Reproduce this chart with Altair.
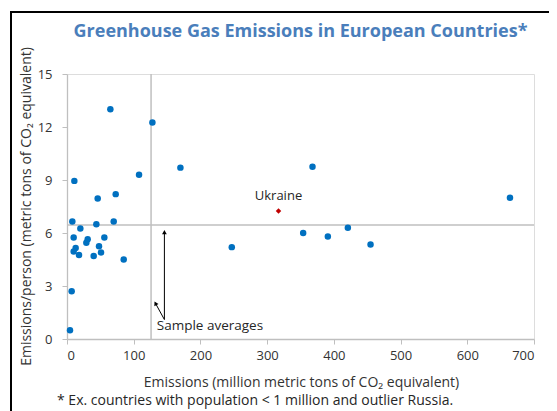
import altair as alt
import pandas as pd

# --- data ---
emissions = [65, 128, 170, 108, 11, 46, 73, 8, 70, 44, 20, 10, 31, 29, 56, 48,
             13, 10, 51, 18, 40, 85, 7, 4.5, 247, 354, 368, 391, 421, 455, 664]
per_person = [13.0, 12.25, 9.7, 9.3, 8.95, 7.95, 8.2, 6.65, 6.65, 6.5, 6.25, 5.75,
              5.65, 5.45, 5.75, 5.25, 5.15, 4.95, 4.9, 4.75, 4.7, 4.5, 2.7, 0.5,
              5.2, 6.0, 9.75, 5.8, 6.3, 5.35, 8.0]

highlight_name = ["Ukraine"]
highlight_emissions = [317]
highlight_per_person = [7.25]

avg_emissions = [126]
avg_per_person = [6.45]

x_ticks = [0, 100, 200, 300, 400, 500, 600, 700]
y_ticks = [0, 3, 6, 9, 12, 15]

# annotation: "Sample averages" with two arrows
note_text = ["Sample averages"]
note_x = [134.5]
note_y = [0.72]
arrow_start_x = [146, 146]
arrow_start_y = [1.1, 1.1]
arrow_end_x = [146, 132.6]
arrow_end_y = [6.05, 2.02]
arrow_angle = [0, 331.5]

footnote = ["* Ex. countries with population < 1 million and outlier Russia."]

FONT = "Open Sans"
TEXT_COLOR = "#333333"
GRID_GRAY = "#BFBFBF"

df = pd.DataFrame({"emissions": emissions, "per_person": per_person})
df_hi = pd.DataFrame({"name": highlight_name, "emissions": highlight_emissions,
                      "per_person": highlight_per_person})
df_avg_x = pd.DataFrame({"v": avg_emissions})
df_avg_y = pd.DataFrame({"v": avg_per_person})
df_note = pd.DataFrame({"t": note_text, "x": note_x, "y": note_y})
df_arrow = pd.DataFrame({"x": arrow_start_x, "y": arrow_start_y,
                         "x2": arrow_end_x, "y2": arrow_end_y, "angle": arrow_angle})
df_foot = pd.DataFrame({"t": footnote})
df_one = pd.DataFrame({"k": [0]})

xscale = alt.Scale(domain=[0, 700], nice=False, zero=False)
yscale = alt.Scale(domain=[0, 15], nice=False, zero=False)

x_axis = alt.Axis(
    values=x_ticks, grid=False, tickSize=5, tickColor=GRID_GRAY, domainColor=GRID_GRAY,
    domainWidth=1.3, labelPadding=5, labelFontSize=13, labelFont=FONT, labelColor=TEXT_COLOR,
    title="Emissions (million metric tons of CO₂ equivalent)", titleFont=FONT,
    titleFontSize=14, titleFontWeight="normal", titleColor=TEXT_COLOR,
    titleX=234, titleY=43, titleBaseline="middle", titleAlign="center",
)
y_axis = alt.Axis(
    values=y_ticks, grid=False, tickSize=5, tickColor=GRID_GRAY, domainColor=GRID_GRAY,
    domainWidth=1.3, labelPadding=10, labelFontSize=13, labelFont=FONT, labelColor=TEXT_COLOR,
    title="Emissions/person (metric tons of CO₂ equivalent)", titleFont=FONT,
    titleFontSize=14, titleFontWeight="normal", titleColor=TEXT_COLOR,
    titleX=-41, titleY=132, titleBaseline="middle", titleAlign="center", titleAngle=270,
)

points = alt.Chart(df).mark_circle(size=42, color="#0070C0", opacity=1).encode(
    x=alt.X("emissions:Q", scale=xscale, axis=x_axis),
    y=alt.Y("per_person:Q", scale=yscale, axis=y_axis),
)

avg_v = alt.Chart(df_avg_x).mark_rule(color=GRID_GRAY, strokeWidth=1.5).encode(
    x=alt.X("v:Q", scale=xscale))
avg_h = alt.Chart(df_avg_y).mark_rule(color=GRID_GRAY, strokeWidth=1.5).encode(
    y=alt.Y("v:Q", scale=yscale))

hi_point = alt.Chart(df_hi).mark_point(shape="diamond", filled=True, size=30,
                                       color="#C00000", opacity=1).encode(
    x=alt.X("emissions:Q", scale=xscale), y=alt.Y("per_person:Q", scale=yscale))
hi_label = alt.Chart(df_hi).mark_text(dy=-15, font=FONT, fontSize=13,
                                      color="#262626", baseline="middle").encode(
    x=alt.X("emissions:Q", scale=xscale), y=alt.Y("per_person:Q", scale=yscale),
    text="name:N")

arrow_lines = alt.Chart(df_arrow).mark_rule(color="#000000", strokeWidth=1).encode(
    x=alt.X("x:Q", scale=xscale), y=alt.Y("y:Q", scale=yscale),
    x2="x2:Q", y2="y2:Q")
arrow_heads = alt.Chart(df_arrow).mark_point(shape="triangle-up", filled=True, size=22,
                                             color="#000000", opacity=1).encode(
    x=alt.X("x2:Q", scale=xscale), y=alt.Y("y2:Q", scale=yscale),
    angle=alt.Angle("angle:Q", scale=None))
note = alt.Chart(df_note).mark_text(align="left", baseline="middle", font=FONT,
                                    fontSize=13.5, color="#262626").encode(
    x=alt.X("x:Q", scale=xscale), y=alt.Y("y:Q", scale=yscale), text="t:N")

foot = alt.Chart(df_foot).mark_text(align="left", baseline="middle", font=FONT,
                                    fontSize=14, color="#262626").encode(
    x=alt.value(-10), y=alt.value(327), text="t:N")

frame_left = alt.Chart(df_one).mark_rule(color="#000000", strokeWidth=2).encode(
    x=alt.value(-56), y=alt.value(-63), y2=alt.value(400))
frame_top = alt.Chart(df_one).mark_rule(color="#000000", strokeWidth=2).encode(
    x=alt.value(-57), x2=alt.value(500), y=alt.value(-62))

chart = alt.layer(
    avg_v, avg_h, points, hi_point, hi_label, arrow_lines, arrow_heads, note, foot,
    frame_left, frame_top,
).properties(
    width=467, height=265,
    padding={"left": 59, "top": 66, "right": 15, "bottom": 72},
    autosize=alt.AutoSizeParams(type="none"),
    title=alt.TitleParams(
        "Greenhouse Gas Emissions in European Countries*", font=FONT, fontSize=18,
        fontWeight="bold", color="#4A7EBB", anchor="middle", baseline="alphabetic",
        offset=-45,
    ),
).configure_view(stroke=GRID_GRAY, strokeWidth=1.3).configure(background="white")

chart.save("out.html", embed_options={"renderer": "svg", "actions": False})
